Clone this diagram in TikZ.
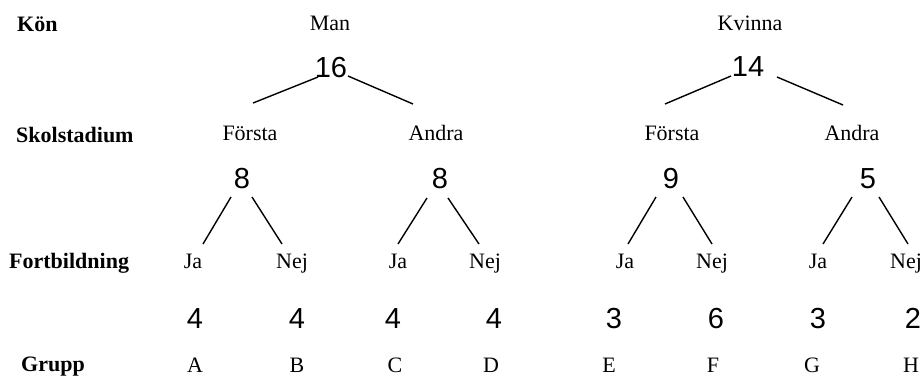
\documentclass[tikz,border=0pt]{standalone}
\usepackage{fontspec}
\setmainfont{Liberation Serif}
\newfontfamily\numfont{Liberation Sans}
\usetikzlibrary{calc}
\begin{document}
\begin{tikzpicture}[x=1pt,y=-1pt,
  every node/.style={inner sep=0pt,anchor=base},
  rowlabel/.style={anchor=base west,font=\fontsize{22}{26}\selectfont\bfseries},
  word/.style={font=\fontsize{22}{26}\selectfont},
  count/.style={font=\fontsize{29}{34}\selectfont\numfont},
  branch/.style={line width=1.4pt}]
\useasboundingbox (0,0) rectangle (924,376);

% row labels
\node[rowlabel] (lkon)   at (17,31)  {Kön};
\node[rowlabel] (lskol)  at (16,142) {Skolstadium};
\node[rowlabel] (lfort)  at (9,268)  {Fortbildning};
\node[rowlabel] (lgrupp) at (21,371) {Grupp};

% sex
\node[word] (man) at (330,30) {Man};
\node[word] (kvinna) at (750,30) {Kvinna};
\node[count] (cman) at (331,77) {16};
\node[count] (ckv)  at (748,76) {14};

% school level
\node[word] (f1) at (250,140) {Första};
\node[word] (a1) at (436,140) {Andra};
\node[word] (f2) at (672,140) {Första};
\node[word] (a2) at (852,140) {Andra};
\node[count] (cf1) at (242,188) {8};
\node[count] (ca1) at (440,188) {8};
\node[count] (cf2) at (671,188) {9};
\node[count] (ca2) at (868,188) {5};

% further education
\node[word] (j1) at (193,268) {Ja};
\node[word] (n1) at (292,268) {Nej};
\node[word] (j2) at (398,268) {Ja};
\node[word] (n2) at (485,268) {Nej};
\node[word] (j3) at (625,268) {Ja};
\node[word] (n3) at (712,268) {Nej};
\node[word] (j4) at (818,268) {Ja};
\node[word] (n4) at (906,268) {Nej};

% group sizes
\node[count] (ga) at (195,328) {4};
\node[count] (gb) at (297,328) {4};
\node[count] (gc) at (393,328) {4};
\node[count] (gd) at (494,328) {4};
\node[count] (ge) at (614,328) {3};
\node[count] (gf) at (716,328) {6};
\node[count] (gg) at (818,328) {3};
\node[count] (gh) at (913,328) {2};

% group letters
\node[word] (la) at (195,372) {A};
\node[word] (lb) at (297,372) {B};
\node[word] (lc) at (395,372) {C};
\node[word] (ld) at (491,372) {D};
\node[word] (le) at (609,372) {E};
\node[word] (lf) at (713,372) {F};
\node[word] (lg) at (812,372) {G};
\node[word] (lh) at (911,372) {H};

% branches: sex -> school level
\draw[branch] ($(cman.base)+(-13,0)$) -- ($(f1.base)+(3,-37)$);
\draw[branch] ($(cman.base)+(17,-1)$) -- ($(a1.base)+(-23,-36)$);
\draw[branch] ($(ckv.base)+(-17,0)$) -- ($(f2.base)+(-7,-36)$);
\draw[branch] ($(ckv.base)+(29,1)$) -- ($(a2.base)+(-9,-35)$);

% branches: school level -> further education
\draw[branch] ($(cf1.base)+(-11,9)$) -- ($(j1.base)+(10,-24)$);
\draw[branch] ($(cf1.base)+(10,9)$) -- ($(n1.base)+(-10,-24)$);
\draw[branch] ($(ca1.base)+(-13,10)$) -- ($(j2.base)+(0,-24)$);
\draw[branch] ($(ca1.base)+(8,10)$) -- ($(n2.base)+(-6,-24)$);
\draw[branch] ($(cf2.base)+(-15,9)$) -- ($(j3.base)+(3,-24)$);
\draw[branch] ($(cf2.base)+(12,9)$) -- ($(n3.base)+(0,-24)$);
\draw[branch] ($(ca2.base)+(-16,9)$) -- ($(j4.base)+(5,-24)$);
\draw[branch] ($(ca2.base)+(11,9)$) -- ($(n4.base)+(2,-24)$);
\end{tikzpicture}
\end{document}
